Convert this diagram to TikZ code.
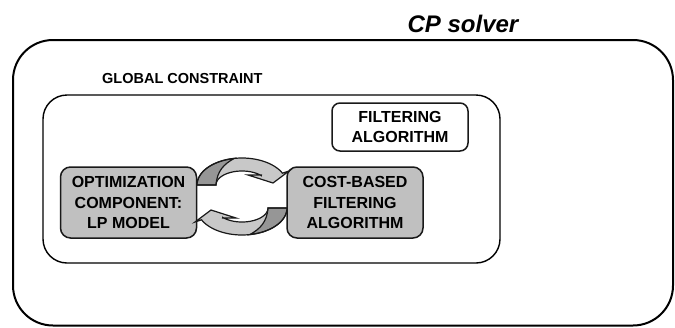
\documentclass[tikz,border=0pt]{standalone}
\usepackage{fontspec}
\setmainfont{Liberation Sans}
\definecolor{boxgray}{RGB}{192,192,192}
\definecolor{arrowlight}{RGB}{200,200,200}
\definecolor{arrowdark}{RGB}{150,150,150}
\definecolor{edge}{RGB}{25,25,25}
\tikzset{
  graybox/.style={draw=edge, line width=1.5pt, fill=boxgray, rounded corners=10pt,
    minimum width=136pt, minimum height=71pt, inner sep=0pt, align=center,
    font=\fontsize{16}{20.5}\selectfont\bfseries},
  whitebox/.style={draw=edge, line width=1.5pt, fill=white, rounded corners=8pt,
    minimum width=136pt, minimum height=48pt, inner sep=0pt, align=center,
    font=\fontsize{16}{20}\selectfont\bfseries},
  container/.style={draw=black, inner sep=0pt},
  arrowedge/.style={draw=edge, line width=1.2pt, line join=miter},
}
\newcommand{\cparrow}{%
  \path[fill=arrowlight] plot[domain=180:26,samples=40] ({242+45*cos(\x)},{185-27*sin(\x)})
     -- (289,171) -- (273,183) -- (248,175) -- (261.4,175)
     -- plot[domain=42:180,samples=40] ({242+26*cos(\x)},{185-14*sin(\x)}) -- cycle;
  \path[fill=arrowdark,arrowedge] plot[domain=180:100,samples=30] ({242+45*cos(\x)},{185-27*sin(\x)})
     .. controls (224,164) and (217,171) .. (216,185) -- cycle;
  \path[arrowedge] plot[domain=180:26,samples=40] ({242+45*cos(\x)},{185-27*sin(\x)})
     -- (289,171) -- (273,183) -- (248,175) -- (261.4,175)
     -- plot[domain=42:180,samples=40] ({242+26*cos(\x)},{185-14*sin(\x)}) -- cycle;
}
\begin{document}
\begin{tikzpicture}[x=1pt,y=-1pt]
\useasboundingbox (0,0) rectangle (675,327);
\node[container, line width=2pt, rounded corners=40pt, minimum width=660pt, minimum height=285.5pt] (outer) at (343,182.75) {};
\node[font=\fontsize{24}{29}\selectfont\bfseries\itshape, anchor=base, inner sep=0pt] (cp) at (463,32) {CP solver};
\node[container, line width=1.4pt, rounded corners=24pt, minimum width=457pt, minimum height=168pt] (inner) at (271.5,179) {};
\node[font=\fontsize{14.5}{17}\selectfont\bfseries, anchor=base west, inner sep=0pt] (gc) at (102,83) {GLOBAL CONSTRAINT};
\node[whitebox] (filter) at (400,127) {FILTERING\\ALGORITHM};
\node[graybox] (opt) at (128.5,202.5) {OPTIMIZATION\\COMPONENT:\\LP MODEL};
\node[graybox] (cost) at (355,202.5) {COST-BASED\\FILTERING\\ALGORITHM};
\cparrow
\begin{scope}[rotate around={180:(242,196.5)}]
\cparrow
\end{scope}
\end{tikzpicture}
\end{document}
